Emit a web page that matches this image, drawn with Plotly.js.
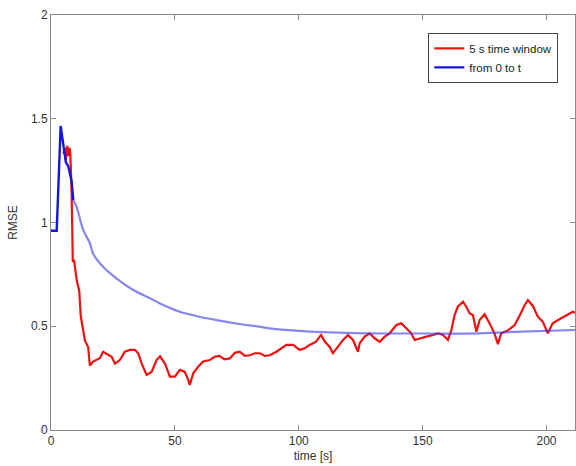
<!DOCTYPE html>
<html>
<head>
<meta charset="utf-8">
<script src="https://cdn.plot.ly/plotly-3.0.1.min.js"></script>
<style>html,body{margin:0;padding:0;background:#fff;}#chart{width:576px;height:466px;}</style>
</head>
<body>
<div id="chart"></div>
<script>
// 5 s time window (red)
const redT = [5, 5.5, 6, 6.5, 7, 7.5, 7.8, 8.3, 8.8, 9.3, 10.4, 11.4, 12, 13, 13.7, 15, 15.7, 17, 19.8, 21, 23.1, 24.5, 25.8, 27.8, 29.8, 31.9, 33.9, 35.2, 36.6, 38.6, 40.6, 42.6, 44, 46, 48, 50, 52, 54, 55.4, 56, 57.4, 59.4, 61.4, 64.1, 66, 68, 70, 72.2, 74.2, 76.2, 78.2, 80.2, 82.3, 84.3, 86.3, 88.3, 91, 95, 97.7, 100.4, 102.4, 104.4, 107, 109, 110.5, 112.5, 113.8, 115.8, 117.9, 119.9, 121.9, 123.9, 124.6, 126.6, 128.6, 130.6, 132.7, 134.7, 136.7, 139.4, 141.4, 143.4, 145.4, 146.8, 148.8, 151.5, 154.2, 156.2, 158.2, 160.2, 161.6, 162.9, 164.2, 166.3, 167.6, 169, 170.3, 171.7, 173, 175, 177, 179, 180.4, 181.7, 184.4, 187.1, 189.1, 191.1, 192.5, 194.5, 196.5, 198.5, 200.5, 202.5, 205.2, 207.9, 210.6, 211.5];
const redV = [1.33, 1.36, 1.30, 1.37, 1.32, 1.36, 1.33, 1.16, 0.81, 0.82, 0.72, 0.67, 0.55, 0.48, 0.43, 0.40, 0.31, 0.33, 0.347, 0.377, 0.36, 0.353, 0.32, 0.337, 0.377, 0.386, 0.386, 0.37, 0.32, 0.265, 0.28, 0.337, 0.355, 0.32, 0.257, 0.257, 0.29, 0.28, 0.24, 0.217, 0.273, 0.305, 0.33, 0.337, 0.353, 0.357, 0.34, 0.345, 0.372, 0.377, 0.357, 0.36, 0.37, 0.37, 0.357, 0.36, 0.377, 0.41, 0.41, 0.386, 0.394, 0.41, 0.426, 0.458, 0.426, 0.40, 0.37, 0.40, 0.434, 0.458, 0.434, 0.377, 0.418, 0.45, 0.466, 0.442, 0.425, 0.45, 0.466, 0.506, 0.514, 0.49, 0.466, 0.434, 0.442, 0.45, 0.458, 0.466, 0.458, 0.434, 0.482, 0.554, 0.594, 0.618, 0.594, 0.562, 0.554, 0.474, 0.53, 0.558, 0.515, 0.466, 0.414, 0.466, 0.48, 0.505, 0.55, 0.60, 0.626, 0.598, 0.546, 0.522, 0.466, 0.514, 0.534, 0.55, 0.57, 0.565];

// from 0 to t (blue)
const blueT = [0, 2.3, 3.9, 5, 5.5, 6, 7, 8.3, 9, 10.3, 13, 15.7, 17, 21, 26.5, 33.2, 40, 44, 52, 60, 68, 76, 84, 88, 100, 110, 128, 150, 173, 190, 211.5];
const blueV = [0.96, 0.96, 1.465, 1.37, 1.33, 1.29, 1.27, 1.2, 1.108, 1.076, 0.964, 0.90, 0.85, 0.787, 0.73, 0.675, 0.635, 0.61, 0.57, 0.546, 0.527, 0.511, 0.498, 0.49, 0.478, 0.472, 0.466, 0.465, 0.466, 0.474, 0.482];

const seriesNames = ["5 s time window", "from 0 to t"];
const xTicks = [0, 50, 100, 150, 200];
const yTicks = [0, 0.5, 1, 1.5, 2];

const splitIdx = 8; // darker early part up to t=9
const traces = [
  {x: redT, y: redV, type: 'scatter', mode: 'lines', name: seriesNames[0],
   line: {color: '#ee1111', width: 2.2}},
  {x: blueT.slice(0, splitIdx + 1), y: blueV.slice(0, splitIdx + 1), type: 'scatter', mode: 'lines', name: seriesNames[1],
   line: {color: '#1515e0', width: 2.4}},
  {x: blueT.slice(splitIdx), y: blueV.slice(splitIdx), type: 'scatter', mode: 'lines', showlegend: false,
   line: {color: 'rgba(60,60,225,0.62)', width: 2.2, shape: 'spline', smoothing: 1}}
];

const axisCommon = {
  showline: true, linecolor: '#8a8a8a', linewidth: 1, mirror: 'ticks',
  ticks: 'inside', ticklen: 5, tickcolor: '#8a8a8a', showgrid: false, zeroline: false,
  tickfont: {family: 'Liberation Sans, Arial, sans-serif', size: 12, color: '#333'}
};

const layout = {
  width: 576, height: 466,
  margin: {l: 51, r: 1, t: 15, b: 36},
  paper_bgcolor: '#fff', plot_bgcolor: '#fff',
  showlegend: true,
  legend: {x: 0.72, y: 0.957, xanchor: 'left', yanchor: 'top', bgcolor: '#fff',
           bordercolor: '#444', borderwidth: 1,
           font: {family: 'Liberation Sans, Arial, sans-serif', size: 11.5, color: '#222'},
           tracegroupgap: 0, itemwidth: 30},
  xaxis: Object.assign({}, axisCommon, {range: [0, 211.5], tickvals: xTicks,
    title: {text: 'time [s]', standoff: 4, font: {family: 'Liberation Sans, Arial, sans-serif', size: 12, color: '#333'}}}),
  yaxis: Object.assign({}, axisCommon, {range: [0, 2], tickvals: yTicks,
    title: {text: 'RMSE', standoff: 10, font: {family: 'Liberation Sans, Arial, sans-serif', size: 12, color: '#333'}}})
};

Plotly.newPlot('chart', traces, layout, {staticPlot: true, displayModeBar: false});
</script>
</body>
</html>
